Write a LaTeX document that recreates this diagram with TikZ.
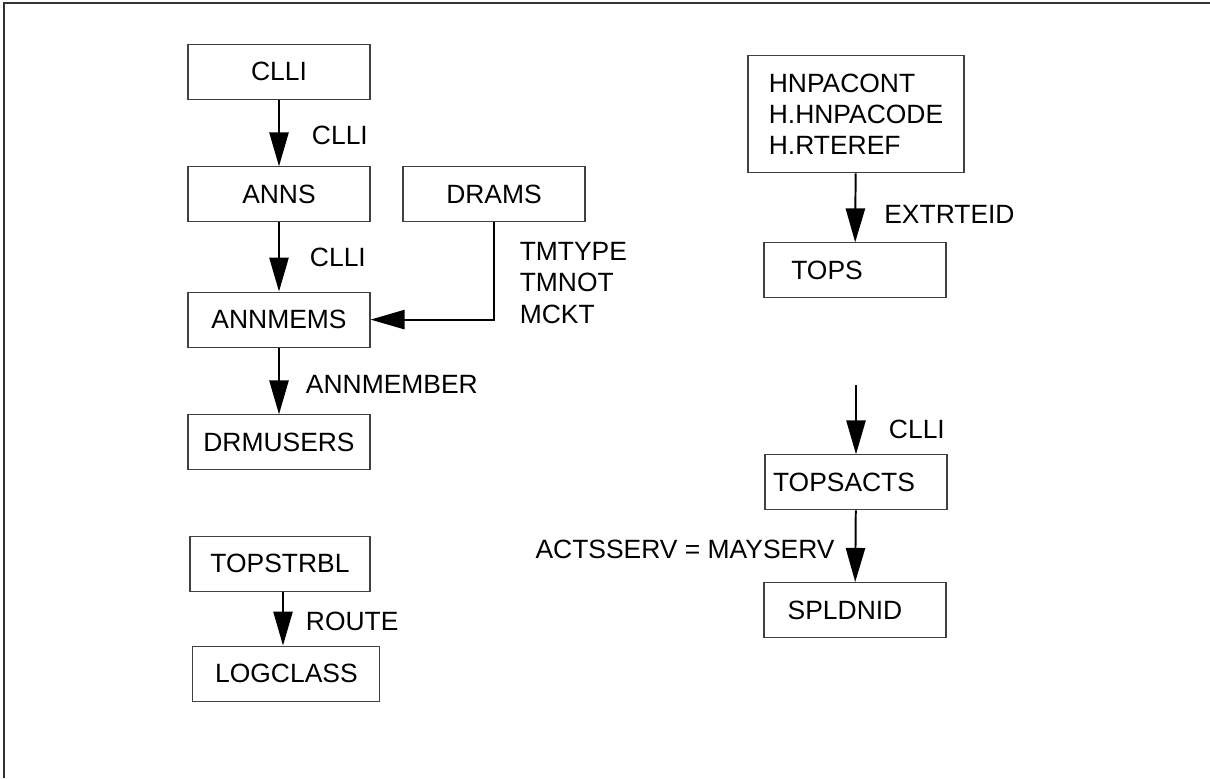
\documentclass[tikz,border=0pt]{standalone}
\usepackage{fontspec}
\setmainfont{Liberation Sans}
\usetikzlibrary{arrows.meta, positioning}

\begin{document}
\begin{tikzpicture}[
    >={Triangle[length=8.5mm, width=4.8mm]},
    box/.style={draw=black!75, line width=0.8pt, minimum height=1.375cm, minimum width=4.55cm,
                font=\fontsize{18.8}{22.3}\selectfont, align=center, inner sep=2pt},
    tallbox/.style={box, align=left, minimum width=5.4cm, minimum height=2.925cm},
    arr/.style={->, line width=1.4pt},
    lbl/.style={font=\fontsize{18.8}{22.3}\selectfont, inner sep=0pt, align=left},
    frame/.style={line width=0.8pt, black!80},
]
\useasboundingbox (0,0) rectangle (30.25,-19.45);
\draw[frame] (30.25,-0.075) -- (0.1,-0.075) -- (0.1,-19.45);
% ------------------------------------------------ left column
\node[box] (clli) at (6.975,-1.79) {CLLI};
\node[box] (anns) at (6.975,-4.86) {ANNS};
\node[box] (drams) at (12.35,-4.86) {DRAMS};
\node[box] (annmems) at (6.975,-7.99) {ANNMEMS};
\node[box] (drmusers) at (6.975,-11.06) {DRMUSERS};
\draw[arr] (clli) -- node[lbl, right=8mm, pos=0.53] {CLLI} (anns);
\draw[arr] (anns) -- node[lbl, right=7.5mm, pos=0.5] {CLLI} (annmems);
\draw[arr] (drams.south) |- node[lbl, right=6.2mm, pos=0.31] {TMTYPE\\TMNOT\\MCKT} (annmems.east);
\draw[arr] (annmems) -- node[lbl, right=6.5mm, pos=0.55] {ANNMEMBER} (drmusers);
\node[box, minimum width=4.5cm] (topstrbl) at (7.0,-14.09) {TOPSTRBL};
\node[box, minimum width=4.675cm] (logclass) at (7.16,-16.84) {LOGCLASS};
\draw[arr] ([xshift=0.75mm]topstrbl.south) -- node[lbl, right=5.5mm, pos=0.55] {ROUTE}
    ([xshift=0.75mm]topstrbl.south |- logclass.north);
% ------------------------------------------------ right column
\node[tallbox] (hnpa) at (21.4,-2.86) {HNPACONT\\H.HNPACODE\\H.RTEREF};
\node[box] (tops) at (21.375,-6.76) {TOPS\hspace*{1.4cm}};
\draw[arr] (hnpa) -- node[lbl, right=7mm, pos=0.6] {EXTRTEID} (tops);
\coordinate (feed) at (21.4,-9.625);
\node[box] (topsacts) at (21.4,-12.06) {TOPSACTS\hspace*{0.6cm}};
\node[box] (spldnid) at (21.375,-15.25) {SPLDNID\hspace*{0.5cm}};
\draw[arr] (feed) -- node[lbl, right=8mm, pos=0.64] {CLLI} (topsacts);
\draw[arr] (topsacts) -- node[lbl, left=5mm, pos=0.55] {ACTSSERV = MAYSERV} (spldnid);
\end{tikzpicture}
\end{document}
